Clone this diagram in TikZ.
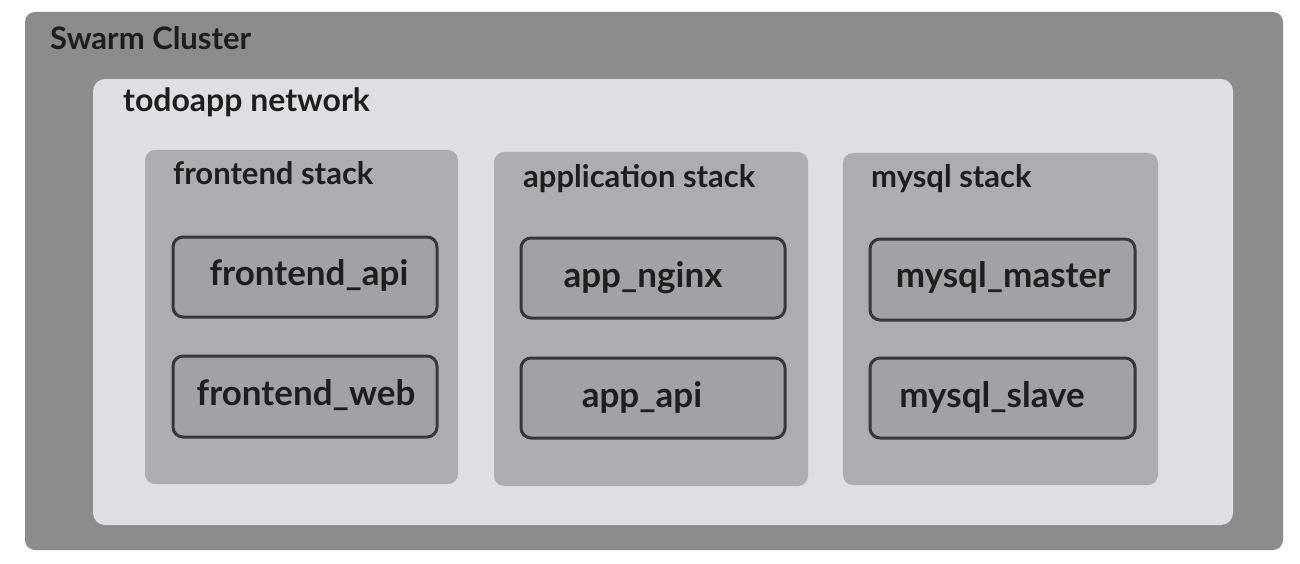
\documentclass[tikz,border=0pt]{standalone}
\usepackage{fontspec}
\setmainfont{Lato}[UprightFont=* Bold]
\definecolor{clusterfill}{HTML}{8C8C8C}
\definecolor{netfill}{HTML}{DFDFE1}
\definecolor{stackfill}{HTML}{ADADAF}
\definecolor{svcfill}{HTML}{A2A2A4}
\definecolor{ink}{HTML}{1E1E1E}
\definecolor{edge}{HTML}{383838}
\tikzset{
  region/.style={rounded corners=10pt},
  svc/.style={draw=edge, line width=3pt, fill=svcfill, rounded corners=10pt},
  title/.style={anchor=base west, inner sep=0pt, text=ink},
  svclabel/.style={anchor=base, inner sep=0pt, text=ink, font=\fontsize{35}{40}\selectfont},
}
\begin{document}
\begin{tikzpicture}[x=1pt,y=-1pt]
\useasboundingbox (0,0) rectangle (1300,564);
\fill[white] (0,0) rectangle (1300,564);
% cluster
\fill[clusterfill, region] (25,12) rectangle (1283,550);
\node[title, font=\fontsize{31}{36}\selectfont] (tcluster) at (50,50) {Swarm Cluster};
% network
\fill[netfill, region, rounded corners=12pt] (93,79) rectangle (1233,525);
\node[title, font=\fontsize{32}{36}\selectfont] (tnet) at (123,112) {todoapp network};
% stacks
\fill[stackfill, region] (145,150) rectangle (458,484);
\fill[stackfill, region] (494,152) rectangle (808,486);
\fill[stackfill, region] (843,153) rectangle (1158,485);
\node[title, font=\fontsize{31}{36}\selectfont] (tfront) at (173,185) {frontend stack};
\node[title, font=\fontsize{31}{36}\selectfont] (tapp) at (523,187) {application stack};
\node[title, font=\fontsize{31}{36}\selectfont] (tmysql) at (871,188) {mysql stack};
% services
\draw[svc] (173,237) rectangle (437,317);
\draw[svc] (173,356) rectangle (437,437);
\draw[svc] (521,238) rectangle (785,318);
\draw[svc] (521,358) rectangle (785,438);
\draw[svc] (870,239) rectangle (1135,320);
\draw[svc] (870,358) rectangle (1135,438);
\node[svclabel] (fapi) at (309,285) {frontend\_api};
\node[svclabel] (fweb) at (306,405) {frontend\_web};
\node[svclabel] (anginx) at (643,287) {app\_nginx};
\node[svclabel] (aapi) at (642,407) {app\_api};
\node[svclabel] (mmaster) at (1003,287) {mysql\_master};
\node[svclabel] (mslave) at (992,407) {mysql\_slave};
\end{tikzpicture}
\end{document}
